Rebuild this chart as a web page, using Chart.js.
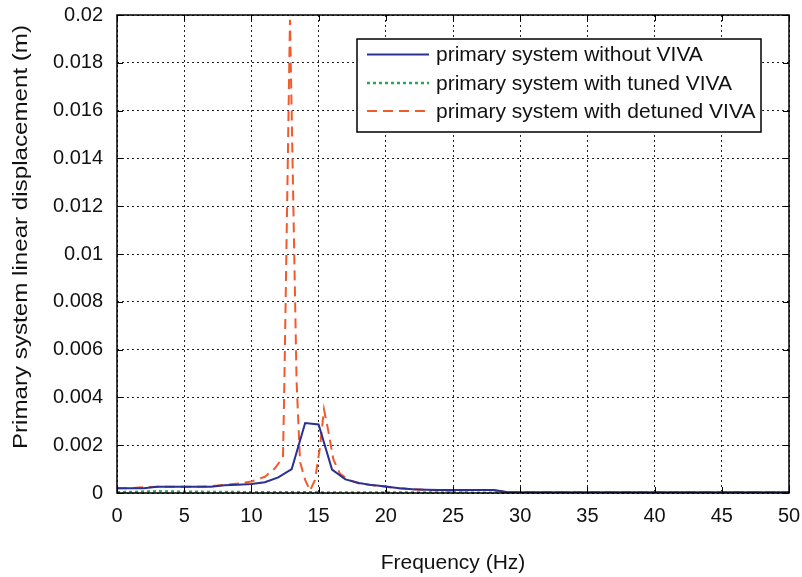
<!DOCTYPE html>
<html>
<head>
<meta charset="utf-8">
<title>Primary system linear displacement</title>
<script src="https://cdn.jsdelivr.net/npm/chart.js@4.4.1/dist/chart.umd.min.js"></script>
<style>
  html, body { margin: 0; padding: 0; background: #ffffff; }
  #wrap { width: 802px; height: 577px; }
</style>
</head>
<body>
<div id="wrap"><canvas id="chart" width="802" height="577"></canvas></div>
<script>
// Frequency response of the primary system (displacement in metres)
const freqWithout = [0, 1, 2, 3, 4, 5, 6, 7, 8, 9, 10, 11, 12, 13, 14, 15, 16, 17, 18, 19, 20,
  21, 22, 23, 24, 25, 26, 27, 28, 29, 30, 32, 35, 40, 45, 50];
const dispWithout = [0.0002, 0.0002, 0.0002, 0.00026, 0.00026, 0.00026, 0.00026, 0.00026, 0.00032, 0.00035, 0.00038,
  0.00045, 0.00065, 0.001, 0.00293, 0.00287, 0.00098, 0.00057, 0.00042, 0.00033, 0.00027,
  0.0002, 0.00016, 0.00014, 0.00013, 0.00013, 0.00013, 0.00013, 0.00013, 0.00004, 0.00003,
  0.00003, 0.00003, 0.00003, 0.00003, 0.00003];

const freqTuned = [0, 1, 2, 3, 4, 5, 6, 7, 8, 9, 10, 12, 14, 16, 18, 20, 22, 25, 28, 30, 35, 40, 45, 50];
const dispTuned = [0.00003, 0.00004, 0.00006, 0.00007, 0.00006, 0.00005, 0.00005, 0.00004, 0.00004, 0.00004, 0.00003,
  0.00003, 0.00003, 0.00002, 0.00002, 0.00002, 0.00002, 0.00002, 0.00001, 0.00001, 0.00001, 0.00001, 0.00001, 0.00001];

const freqDetuned = [0, 1, 2, 3, 4, 5, 6, 7, 8, 9, 10, 11, 11.75, 12.35, 12.45, 12.87, 13.36, 13.62, 14.0,
  14.36, 14.73, 15.1, 15.4, 15.72, 16.1, 16.6, 17.3, 18, 19, 20, 21, 22, 23, 24, 25, 26, 27, 28, 29, 30, 35, 40, 45, 50];
const dispDetuned = [0.0002, 0.0002, 0.00024, 0.00026, 0.00026, 0.00026, 0.00026, 0.00028, 0.00034, 0.0004, 0.00048,
  0.00068, 0.00103, 0.0015, 0.0045, 0.0198, 0.0047, 0.0013, 0.00055,
  0.0001, 0.00055, 0.0019, 0.0035, 0.0026, 0.0014, 0.0008, 0.00054, 0.0004, 0.00032, 0.00026, 0.0002,
  0.00016, 0.00013, 0.0001, 0.00009, 0.00012, 0.00013, 0.00012, 0.00004, 0.00003, 0.00003, 0.00003, 0.00003, 0.00003];

const seriesLabels = ['primary system without VIVA', 'primary system with tuned VIVA', 'primary system with detuned VIVA'];
const xTickValues = [0, 5, 10, 15, 20, 25, 30, 35, 40, 45, 50];
const yTickValues = [0, 0.002, 0.004, 0.006, 0.008, 0.01, 0.012, 0.014, 0.016, 0.018, 0.02];
const xTitle = 'Frequency (Hz)';
const yTitle = 'Primary system linear displacement (m)';

const FONT = '"Liberation Sans", Arial, Helvetica, sans-serif';

function toPoints(xs, ys) {
  return xs.map((x, i) => ({ x: x, y: ys[i] }));
}

// Inward tick marks, the axes box, axis titles and the boxed legend
const framePlugin = {
  id: 'frame',
  afterDatasetsDraw(chart) {
    const ctx = chart.ctx;
    const a = chart.chartArea;
    const xs = chart.scales.x, ys = chart.scales.y;
    ctx.save();
    ctx.setLineDash([]);
    ctx.strokeStyle = '#000';
    ctx.lineWidth = 1;
    const tl = 6;
    ctx.beginPath();
    xTickValues.forEach(v => {
      const px = Math.round(xs.getPixelForValue(v)) + 0.5;
      ctx.moveTo(px, a.bottom); ctx.lineTo(px, a.bottom - tl);
      ctx.moveTo(px, a.top); ctx.lineTo(px, a.top + tl);
    });
    yTickValues.forEach(v => {
      const py = Math.round(ys.getPixelForValue(v)) + 0.5;
      ctx.moveTo(a.left, py); ctx.lineTo(a.left + tl, py);
      ctx.moveTo(a.right, py); ctx.lineTo(a.right - tl, py);
    });
    ctx.stroke();

    // legend box
    const lx = 357, ly = 39, lw = 404, lh = 93;
    ctx.fillStyle = '#fff';
    ctx.fillRect(lx, ly, lw, lh);
    ctx.lineWidth = 1.5;
    ctx.strokeRect(lx, ly, lw, lh);
    const rowY = [54.5, 83, 111];
    ctx.font = '21px ' + FONT;
    ctx.textBaseline = 'middle';
    ctx.textAlign = 'left';
    chart.data.datasets.forEach((ds, i) => {
      ctx.save();
      ctx.strokeStyle = ds.borderColor;
      ctx.lineWidth = ds.borderWidth;
      ctx.setLineDash(ds.borderDash || []);
      ctx.beginPath();
      ctx.moveTo(367, rowY[i]);
      ctx.lineTo(429, rowY[i]);
      ctx.stroke();
      ctx.restore();
      ctx.fillStyle = '#111';
      ctx.fillText(ds.label, 436, rowY[i] + 1);
    });

    // axes box
    ctx.lineWidth = 1.5;
    ctx.strokeStyle = '#000';
    ctx.strokeRect(a.left, a.top, a.right - a.left, a.bottom - a.top);

    // axis titles
    ctx.fillStyle = '#111';
    ctx.font = '21px ' + FONT;
    ctx.textAlign = 'center';
    ctx.textBaseline = 'middle';
    ctx.fillText(xTitle, 453, 563);
    ctx.translate(21, 237);
    ctx.rotate(-Math.PI / 2);
    ctx.scale(1.15, 1);
    ctx.fillText(yTitle, 0, 0);
    ctx.restore();
  }
};

new Chart(document.getElementById('chart'), {
  type: 'line',
  data: {
    datasets: [
      {
        label: seriesLabels[0],
        data: toPoints(freqWithout, dispWithout),
        borderColor: '#2a3192',
        borderWidth: 2,
        borderDash: [],
        pointRadius: 0,
        tension: 0,
        fill: false
      },
      {
        label: seriesLabels[1],
        data: toPoints(freqTuned, dispTuned),
        borderColor: '#1dae57',
        borderWidth: 2.5,
        borderDash: [3, 3],
        pointRadius: 0,
        tension: 0,
        fill: false
      },
      {
        label: seriesLabels[2],
        data: toPoints(freqDetuned, dispDetuned),
        borderColor: '#f15a2b',
        borderWidth: 2,
        borderDash: [10, 6],
        pointRadius: 0,
        tension: 0,
        fill: false
      }
    ]
  },
  options: {
    responsive: false,
    animation: false,
    devicePixelRatio: 1,
    layout: { padding: { left: 0, right: 13, top: 15, bottom: 0 } },
    plugins: { legend: { display: false }, tooltip: { enabled: false } },
    scales: {
      x: {
        type: 'linear',
        min: 0,
        max: 50,
        afterFit: s => { s.height = 84; s.paddingLeft = 0; s.paddingRight = 0; },
        afterBuildTicks: s => { s.ticks = xTickValues.map(v => ({ value: v })); },
        ticks: {
          color: '#111',
          font: { family: FONT, size: 20 },
          padding: 11,
          maxRotation: 0,
          autoSkip: false,
          callback: v => String(v)
        },
        grid: { color: '#222', lineWidth: 1, drawTicks: false },
        border: { display: false, dash: [2, 3] }
      },
      y: {
        type: 'linear',
        min: 0,
        max: 0.02,
        afterFit: s => { s.width = 117; s.paddingTop = 0; s.paddingBottom = 0; },
        afterBuildTicks: s => { s.ticks = yTickValues.map(v => ({ value: v })); },
        ticks: {
          color: '#111',
          font: { family: FONT, size: 20 },
          padding: 14,
          autoSkip: false,
          callback: v => String(Number(Number(v).toFixed(4)))
        },
        grid: { color: '#222', lineWidth: 1, drawTicks: false },
        border: { display: false, dash: [2, 3] }
      }
    }
  },
  plugins: [framePlugin]
});
</script>
</body>
</html>
